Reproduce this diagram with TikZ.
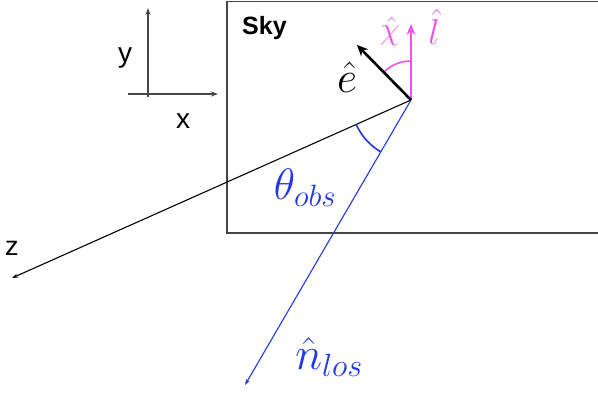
\RequirePackage{fix-cm}
\documentclass[tikz,border=0pt]{standalone}
\usepackage{fontspec}
\setsansfont{Liberation Sans}
\usetikzlibrary{arrows.meta}
\definecolor{losblue}{RGB}{35,55,230}
\definecolor{lmag}{RGB}{235,85,235}
\definecolor{boxgray}{RGB}{70,70,70}
\tikzset{
  boxline/.style={draw=boxgray,line width=1.3pt},
  axisline/.style={draw=boxgray,line width=1.3pt,-{Stealth[length=7pt,width=5pt]}},
  axlabel/.style={font=\sffamily\fontsize{28}{28}\selectfont,inner sep=0pt},
  zline/.style={draw=black,line width=1.1pt,-{Stealth[length=6pt,width=4pt]}},
  losline/.style={draw=losblue,line width=1.1pt,-{Stealth[length=6pt,width=4pt]}},
  evec/.style={draw=black,line width=2.6pt,-{Stealth[length=11pt,width=10pt]}},
  lvec/.style={draw=lmag,line width=2.6pt,-{Stealth[length=11pt,width=9pt]}},
  bluearc/.style={draw=losblue,line width=1.6pt},
  magarc/.style={draw=lmag,line width=1.6pt},
  mathlbl/.style={inner sep=0pt,font=\fontsize{44}{44}\selectfont},
}
\begin{document}
\begin{tikzpicture}[x=1pt,y=-1pt]
\useasboundingbox (0,0) rectangle (598,397);
\begin{scope}
\clip (0,0) rectangle (598,397);
\draw[boxline] (227,1.5) rectangle (620,233);
\end{scope}
\node[font=\sffamily\bfseries\fontsize{25}{25}\selectfont,inner sep=0pt,anchor=west] (sky) at (242,28) {Sky};
% xy axes
\coordinate (xs) at (128,94);
\coordinate (xe) at (218,94);
\coordinate (ys) at (148,97);
\coordinate (ye) at (148,8);
\draw[axisline] (xs) -- (xe);
\draw[axisline] (ys) -- (ye);
\node[axlabel] (ylab) at (125,58) {y};
\node[axlabel] (xlab) at (183,121) {x};
% origin
\coordinate (O) at (411,100);
\coordinate (zend) at (12,278);
\coordinate (nend) at (245,385);
\coordinate (eend) at (357,45);
\coordinate (lend) at (411,24);
\draw[zline] (O) -- (zend);
\node[axlabel,font=\sffamily\fontsize{27}{27}\selectfont] (zlab) at (12,248) {z};
\draw[losline] (O) -- (nend);
\draw[bluearc] ([shift={(-204.1:60)}]O) arc[start angle=-204.1, end angle=-240, radius=60];
\draw[magarc] ([shift={(-90:39)}]O) arc[start angle=-90, end angle=-134, radius=39];
\draw[lvec] (O) -- (lend);
\draw[evec] (O) -- (eend);
\node[mathlbl,text=black] (elab) at (347,77) {$\hat{e}$};
\node[mathlbl,text=lmag,font=\fontsize{36}{36}\selectfont] (llab) at (434,27) {$\hat{l}$};
\node[mathlbl,text=lmag,font=\fontsize{32}{32}\selectfont] (chilab) at (390,31) {$\hat{\chi}$};
\node[mathlbl,text=losblue] (thlab) at (305,188) {$\theta_{obs}$};
\node[mathlbl,text=losblue,font=\fontsize{46}{46}\selectfont] (nlab) at (329,357) {$\hat{n}_{los}$};
\end{tikzpicture}
\end{document}
